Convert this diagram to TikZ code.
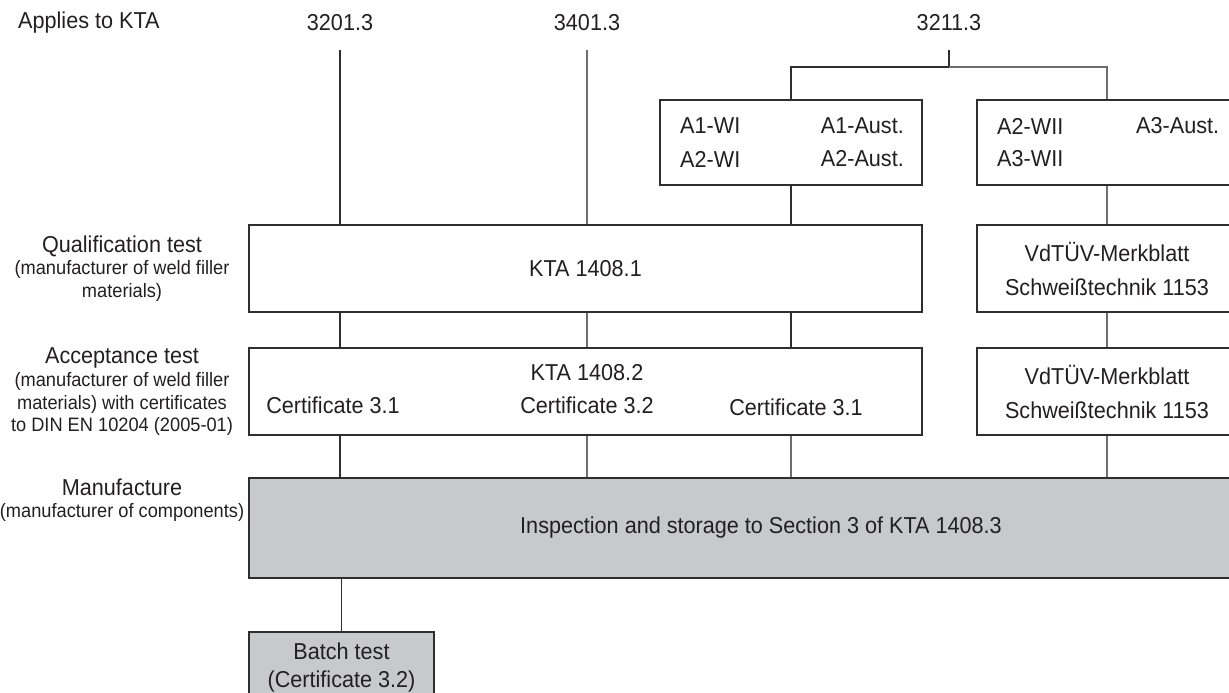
\documentclass[tikz,border=0pt]{standalone}
\usepackage{fontspec}
\setmainfont{Liberation Sans}[FakeStretch=0.94]
\definecolor{ink}{HTML}{231F20}
\definecolor{ln}{HTML}{2E2E2E}
\definecolor{lng}{HTML}{6E6E6E}
\definecolor{boxgray}{HTML}{C8C9CB}
\begin{document}
\begin{tikzpicture}[x=1pt,y=-1pt,
  txt/.style={text=ink,inner sep=0pt,font=\fontsize{23}{33}\selectfont},
  sml/.style={text=ink,inner sep=0pt,align=center,font=\fontsize{19.4}{22.5}\selectfont},
  lbl/.style={text=ink,inner sep=0pt,align=center,font=\fontsize{23}{24}\selectfont},
  box/.style={draw=ln,line width=1.3pt,fill=white,inner sep=0pt,text=ink,align=center,font=\fontsize{23}{34}\selectfont},
  gbox/.style={box,fill=boxgray},
  conn/.style={draw=ln,line width=1.1pt},
  conng/.style={draw=lng,line width=1.1pt}]
\useasboundingbox (0,0) rectangle (1229,693);
\clip (0,0) rectangle (1229,693);
% header
\node[txt,anchor=west] (app) at (18,23) {Applies to KTA};
\node[txt] (t1) at (340,23) {3201.3};
\node[txt] (t2) at (587,23) {3401.3};
\node[txt] (t3) at (949,23) {3211.3};
% boxes
\node[box,minimum width=262,minimum height=85] (a1) at (791,142.5) {};
\node[box,minimum width=260,minimum height=85] (a2) at (1107,142.5) {};
\node[box,minimum width=673,minimum height=87] (q) at (585.5,268.5) {KTA 1408.1};
\node[box,minimum width=260,minimum height=87] (v1) at (1107,268.5) {VdTÜV-Merkblatt\\Schweißtechnik 1153};
\node[box,minimum width=673,minimum height=87] (acc) at (585.5,391.5) {};
\node[box,minimum width=260,minimum height=87] (v2) at (1107,391.5) {VdTÜV-Merkblatt\\Schweißtechnik 1153};
\node[gbox,minimum width=1024,minimum height=100] (man) at (761,528) {Inspection and storage to Section 3 of KTA 1408.3};
\node[gbox,minimum width=185,minimum height=88] (bat) at (341.5,676) {};
% box contents
\node[txt,anchor=west] (a1a) at (680,126) {A1-WI};
\node[txt,anchor=west] (a1b) at (680,159) {A2-WI};
\node[txt,anchor=east] (a1c) at (904,126) {A1-Aust.};
\node[txt,anchor=east] (a1d) at (904,159) {A2-Aust.};
\node[txt,anchor=west] (a2a) at (997,126) {A2-WII};
\node[txt,anchor=west] (a2b) at (997,159) {A3-WII};
\node[txt,anchor=west] (a2c) at (1136,126) {A3-Aust.};
\node[txt] (k2) at (587,373) {KTA 1408.2};
\node[txt] (c1) at (333,405) {Certificate 3.1};
\node[txt] (c2) at (587,405) {Certificate 3.2};
\node[txt] (c3) at (796,407) {Certificate 3.1};
\node[txt,align=center,font=\fontsize{23}{28}\selectfont] (bt) at (341.5,668) {Batch test\\(Certificate 3.2)};
% left labels
\node[lbl] (ql) at (122,246) {Qualification test};
\node[sml] (qs) at (122,281) {(manufacturer of weld filler\\materials)};
\node[lbl] (al) at (122,358) {Acceptance test};
\node[sml] (as) at (122,404) {(manufacturer of weld filler\\materials) with certificates\\to DIN EN 10204 (2005-01)};
\node[lbl] (ml) at (122,487) {Manufacture};
\node[sml] (ms) at (122,512) {(manufacturer of components)};
% connectors
\coordinate (br) at (949,67);
\draw[conn] (340,50) coordinate (s1) -- (s1 |- q.north);
\draw[conng] (587,50) coordinate (s2) -- (s2 |- q.north);
\draw[conn] (949,50) coordinate (s3) -- (br);
\draw[conn] (a1.north) |- (br);
\draw[conng] (br) -| (a2.north);
\draw[conn] (a1.south) -- (a1.south |- q.north);
\draw[conng] (a2.south) -- (v1.north);
\draw[conng] (v1.south) -- (v2.north);
\draw[conn] (340,0 |- q.south) -- (340,0 |- acc.north);
\draw[conn] (340,0 |- acc.south) -- (340,0 |- man.north);
\draw[conng] (587,0 |- q.south) -- (587,0 |- acc.north);
\draw[conng] (587,0 |- acc.south) -- (587,0 |- man.north);
\draw[conn] (a1.south |- q.south) -- (a1.south |- acc.north);
\draw[conng] (a1.south |- acc.south) -- (a1.south |- man.north);
\draw[conng] (v2.south) -- (v2.south |- man.north);
\draw[conn] (man.south -| bat.north) -- (bat.north);
\end{tikzpicture}
\end{document}
